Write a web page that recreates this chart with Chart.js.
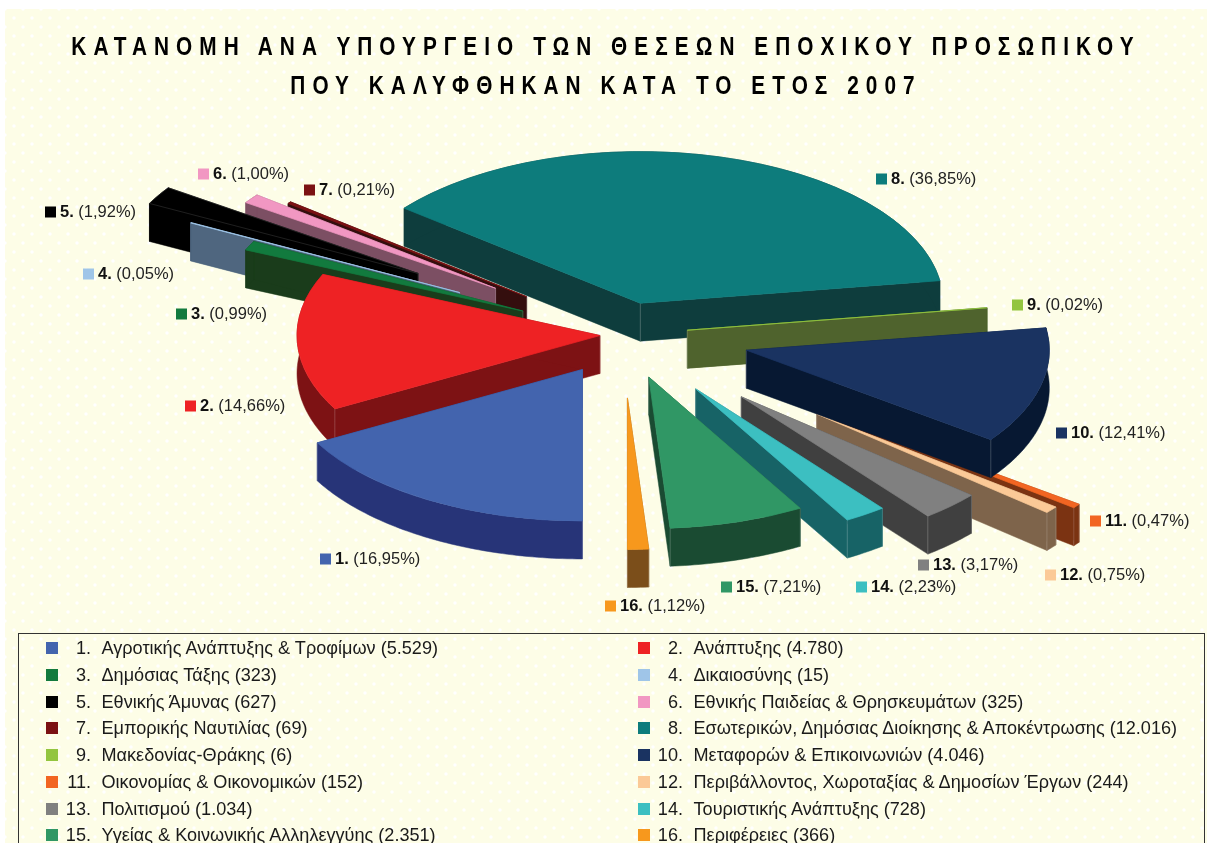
<!DOCTYPE html>
<html lang="el">
<head>
<meta charset="utf-8">
<title>Κατανομή ανά Υπουργείο</title>
<script src="https://cdn.jsdelivr.net/npm/chart.js@4"></script>
<style>
  html, body { margin: 0; padding: 0; width: 1207px; height: 843px; overflow: hidden; background: #fff; }
  body { font-family: "Liberation Sans", Arial, sans-serif; color: #1a1a1a; }
  #paper {
    position: absolute; left: 5px; top: 9px; right: 0; bottom: 0;
    background-color: #fdfde7;
    background-image:
      radial-gradient(circle, #fff 1.1px, transparent 2.2px),
      radial-gradient(circle, #fff 1.1px, transparent 2.2px);
    background-size: 18px 18px;
    background-position: 0 0, 9px 9px;
  }
  #chart_area { position: absolute; left: 0; top: 0; }
  .title {
    position: absolute; left: -202px; width: 1616px; text-align: center; white-space: pre; color: #000;
    font-weight: bold; font-size: 26px; line-height: 30px; letter-spacing: 8.8px;
    transform: scaleX(0.8);
  }
  #legend_box {
    position: absolute; left: 18px; top: 633px; width: 1185px; height: 260px;
    border: 1px solid #333; padding-top: 1px;
    display: grid; grid-template-columns: 592px 592px; grid-auto-rows: 26.75px;
    font-size: 18.1px;
  }
  .legend_row { position: relative; white-space: nowrap; line-height: 26.75px; }
  .legend_row i { position: absolute; left: 27px; top: 7px; width: 12px; height: 12px; }
  .legend_row b { position: absolute; left: 22px; width: 50px; text-align: right; font-weight: normal; }
  .legend_row span { position: absolute; left: 82.5px; }
</style>
</head>
<body>
<div id="paper"></div>
<canvas id="chart_area" width="1207" height="843"></canvas>
<div class="title" style="top:31px">ΚΑΤΑΝΟΜΗ ΑΝΑ ΥΠΟΥΡΓΕΙΟ ΤΩΝ ΘΕΣΕΩΝ ΕΠΟΧΙΚΟΥ ΠΡΟΣΩΠΙΚΟΥ</div>
<div class="title" style="top:70px">ΠΟΥ ΚΑΛΥΦΘΗΚΑΝ ΚΑΤΑ ΤΟ ΕΤΟΣ 2007</div>
<div id="legend_box"></div>

<script>
const ministries = [
  "Αγροτικής Ανάπτυξης & Τροφίμων", "Ανάπτυξης", "Δημόσιας Τάξης", "Δικαιοσύνης",
  "Εθνικής Άμυνας", "Εθνικής Παιδείας & Θρησκευμάτων", "Εμπορικής Ναυτιλίας",
  "Εσωτερικών, Δημόσιας Διοίκησης & Αποκέντρωσης", "Μακεδονίας-Θράκης",
  "Μεταφορών & Επικοινωνιών", "Οικονομίας & Οικονομικών",
  "Περιβάλλοντος, Χωροταξίας & Δημοσίων Έργων", "Πολιτισμού", "Τουριστικής Ανάπτυξης",
  "Υγείας & Κοινωνικής Αλληλεγγύης", "Περιφέρειες"
];
const positions = [5529, 4780, 323, 15, 627, 325, 69, 12016, 6, 4046, 152, 244, 1034, 728, 2351, 366];
const percents = ["16,95", "14,66", "0,99", "0,05", "1,92", "1,00", "0,21", "36,85", "0,02", "12,41", "0,47", "0,75", "3,17", "2,23", "7,21", "1,12"];

const top_colors = ["#4364ae", "#ee2224", "#127a3e", "#9fc5e8", "#000000", "#f197c2", "#7b1113", "#0d7c7c",
  "#92c53f", "#1a3361", "#f26522", "#fbc997", "#808080", "#3cbfc1", "#309765", "#f7981d"];
const wall_colors = ["#273478", "#7d1214", "#1a3c1b", "#4f667f", "#000000", "#7c4f63", "#340e0e", "#0e3d3d",
  "#4f632d", "#071832", "#7b3312", "#7e644b", "#404040", "#176366", "#1a4b32", "#7b4e1a"];

// how far each slice is pulled out of the pie, in px before squashing
const explode = [80, 23, 111, 184, 239, 158, 123, 66, 65, 127, 265, 250, 171, 130, 88, 126];
// back slices first, the front ones paint over them
const paint_order = [7, 6, 5, 4, 3, 2, 1, 0, 8, 10, 11, 9, 12, 13, 14, 15];
// marker position of each data label
const label_pos = [[320, 559], [185, 406], [176, 314], [83, 274], [45, 212], [198, 174], [304, 190], [876, 179],
  [1012, 305], [1056, 433], [1090, 521], [1045, 575], [918, 565], [856, 587], [721, 587], [605, 606]];

const SQUASH = 0.5;
const DEPTH = 38;

function drawWall(ctx, arc, i) {
  const dx = Math.cos((arc.startAngle + arc.endAngle) / 2) * explode[i];
  const dy = Math.sin((arc.startAngle + arc.endAngle) / 2) * explode[i];
  const pt = (angle, r, z) => [
    arc.x + dx + Math.cos(angle) * r,
    arc.y + (dy + Math.sin(angle) * r) * SQUASH + z
  ];
  const face = (points) => {
    ctx.beginPath();
    points.forEach((p, n) => (n ? ctx.lineTo(p[0], p[1]) : ctx.moveTo(p[0], p[1])));
    ctx.closePath();
    ctx.fill();
    ctx.stroke();
  };

  ctx.fillStyle = wall_colors[i];
  ctx.strokeStyle = wall_colors[i];
  ctx.lineWidth = 0.5;

  const r = arc.outerRadius;
  const a0 = arc.startAngle;
  const a1 = arc.endAngle;
  face([pt(a0, 0, 0), pt(a0, r, 0), pt(a0, r, DEPTH), pt(a0, 0, DEPTH)]);
  face([pt(a1, 0, 0), pt(a1, r, 0), pt(a1, r, DEPTH), pt(a1, 0, DEPTH)]);

  const rim_top = [];
  const rim_bottom = [];
  const steps = Math.max(2, Math.ceil((a1 - a0) * 60));
  for (let s = 0; s <= steps; s++) {
    const a = a0 + ((a1 - a0) * s) / steps;
    rim_top.push(pt(a, r, 0));
    rim_bottom.unshift(pt(a, r, DEPTH));
  }
  face(rim_top.concat(rim_bottom));

  // faint light line on the vertical corners that face the viewer
  ctx.strokeStyle = "rgba(255,255,255,0.18)";
  ctx.lineWidth = 1;
  const corners = [pt(a0, 0, 0)];
  if (Math.sin(a0) > 0) corners.push(pt(a0, r, 0));
  if (Math.sin(a1) > 0) corners.push(pt(a1, r, 0));
  corners.forEach((p) => {
    ctx.beginPath();
    ctx.moveTo(p[0], p[1]);
    ctx.lineTo(p[0], p[1] + DEPTH);
    ctx.stroke();
  });
}

const pie3d = {
  id: "pie3d",
  beforeDatasetDraw(chart, args) {
    const ctx = chart.ctx;
    const arcs = args.meta.data;
    paint_order.forEach((i) => {
      const arc = arcs[i];
      const mid = (arc.startAngle + arc.endAngle) / 2;
      drawWall(ctx, arc, i);
      ctx.save();
      ctx.translate(arc.x, arc.y);
      ctx.scale(1, SQUASH);
      ctx.translate(Math.cos(mid) * explode[i] - arc.x, Math.sin(mid) * explode[i] - arc.y);
      arc.draw(ctx);
      ctx.restore();
    });
    return false;
  },
  afterDraw(chart) {
    const ctx = chart.ctx;
    ctx.save();
    ctx.textBaseline = "middle";
    label_pos.forEach((pos, i) => {
      ctx.fillStyle = top_colors[i];
      ctx.fillRect(pos[0], pos[1] - 5.5, 11, 11);
      ctx.fillStyle = "#111";
      ctx.font = "bold 16.5px 'Liberation Sans'";
      const num = i + 1 + ".";
      ctx.fillText(num, pos[0] + 15, pos[1]);
      const w = ctx.measureText(num + " ").width;
      ctx.font = "16.5px 'Liberation Sans'";
      ctx.fillStyle = "#222";
      ctx.fillText("(" + percents[i] + "%)", pos[0] + 15 + w, pos[1]);
    });
    ctx.restore();
  }
};

const pie_chart = new Chart(document.getElementById("chart_area").getContext("2d"), {
  type: "pie",
  data: {
    labels: ministries,
    datasets: [
      {
        data: positions,
        backgroundColor: top_colors,
        borderColor: top_colors.map((c) => (c === "#000000" ? "#2a2a2a" : c)),
        borderWidth: 1,
        radius: 303,
      },
    ],
  },
  options: {
    responsive: false,
    animation: false,
    rotation: 180,
    layout: { padding: { left: 39, right: 0, top: 0, bottom: 173 } },
    plugins: { legend: { display: false }, tooltip: { enabled: false } },
  },
  plugins: [pie3d],
});

// legend under the pie, two columns
const legend_box = document.getElementById("legend_box");
ministries.forEach((name, i) => {
  const row = document.createElement("div");
  row.className = "legend_row";
  const count = String(positions[i]).replace(/\B(?=(\d{3})+$)/g, ".");
  row.innerHTML = `<i style="background:${top_colors[i]}"></i><b>${i + 1}.</b><span>${name} (${count})</span>`;
  legend_box.appendChild(row);
});
</script>
</body>
</html>
